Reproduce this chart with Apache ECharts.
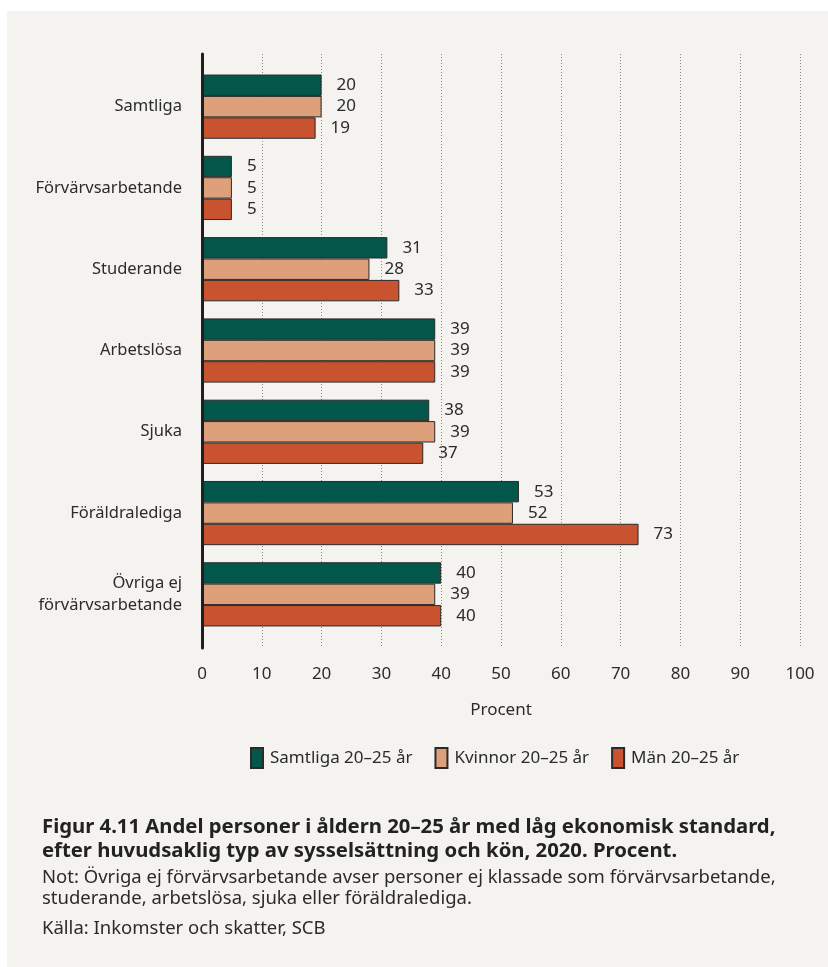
<!DOCTYPE html>
<html>
<head>
<meta charset="utf-8">
<script src="https://cdn.jsdelivr.net/npm/echarts@6/dist/echarts.min.js"></script>
<style>
  html, body { margin: 0; padding: 0; background: #ffffff; }
  #chart { position: absolute; left: 0; top: 0; width: 828px; height: 967px; }
</style>
</head>
<body>
<div id="chart"></div>
<script>
// Employment categories (top to bottom)
const categories = [
  'Samtliga',
  'Förvärvsarbetande',
  'Studerande',
  'Arbetslösa',
  'Sjuka',
  'Föräldralediga',
  'Övriga ej\nförvärvsarbetande'
];

// Share with low economic standard, per cent
const samtliga = [20, 5, 31, 39, 38, 53, 40];
const kvinnor  = [20, 5, 28, 39, 39, 52, 39];
const man      = [19, 5, 33, 39, 37, 73, 40];

const seriesNames = ['Samtliga 20–25 år', 'Kvinnor 20–25 år', 'Män 20–25 år'];
const xTicks = [0, 10, 20, 30, 40, 50, 60, 70, 80, 90, 100];

const FONT = '"Noto Sans", sans-serif';
const TEXT = '#2b2b2b';
const colors = ['#03574a', '#dea07a', '#c9532f'];

function barSeries(name, data, color) {
  return {
    name: name,
    type: 'bar',
    xAxisIndex: 1,
    yAxisIndex: 1,
    data: data,
    barGap: '0%',
    barCategoryGap: '21%',
    itemStyle: { color: color, borderColor: '#2a2a2a', borderWidth: 1 },
    label: {
      show: true,
      position: 'right',
      distance: 15,
      fontFamily: FONT,
      fontSize: 17,
      color: TEXT
    }
  };
}

const chart = echarts.init(document.getElementById('chart'), null, { renderer: 'canvas' });

chart.setOption({
  animation: false,
  backgroundColor: '#ffffff',
  textStyle: { fontFamily: FONT },
  graphic: [{
    type: 'rect',
    left: 7, top: 11,
    shape: { width: 821, height: 956 },
    style: { fill: '#f4f3ef' },
    z: -10, silent: true
  }],
  title: [
    {
      text: 'Figur 4.11 Andel personer i åldern 20–25 år med låg ekonomisk standard,\nefter huvudsaklig typ av sysselsättning och kön, 2020. Procent.',
      left: 42, top: 815,
      padding: 0,
      textStyle: { fontFamily: FONT, fontSize: 20.3, fontWeight: 'bold', color: '#222', lineHeight: 24 }
    },
    {
      text: 'Not: Övriga ej förvärvsarbetande avser personer ej klassade som förvärvsarbetande,\nstuderande, arbetslösa, sjuka eller föräldralediga.',
      left: 42, top: 867,
      padding: 0,
      textStyle: { fontFamily: FONT, fontSize: 18.5, fontWeight: 'normal', color: TEXT, lineHeight: 21 }
    },
    {
      text: 'Källa: Inkomster och skatter, SCB',
      left: 42, top: 918,
      padding: 0,
      textStyle: { fontFamily: FONT, fontSize: 18.5, fontWeight: 'normal', color: TEXT, lineHeight: 21 }
    }
  ],
  legend: {
    top: 742,
    left: 245,
    data: seriesNames,
    icon: 'rect',
    itemWidth: 12,
    itemHeight: 20,
    itemGap: 22,
    textStyle: { fontFamily: FONT, fontSize: 17, color: TEXT, padding: [0, 0, 0, 2] }
  },
  grid: [
    // frame grid: gridlines, ticks and the vertical axis line
    { left: 202, right: 28, top: 54, bottom: 319, containLabel: false },
    // bar grid
    { left: 202, right: 28, top: 66, bottom: 332, containLabel: false }
  ],
  xAxis: [
    {
      gridIndex: 0,
      type: 'value',
      min: xTicks[0], max: xTicks[xTicks.length - 1], interval: 10,
      axisLine: { show: false },
      axisTick: { show: false },
      splitLine: { show: true, lineStyle: { color: '#888', type: [1, 2], width: 1 } },
      axisLabel: { fontFamily: FONT, fontSize: 17, color: TEXT, margin: 18 },
      name: 'Procent',
      nameLocation: 'middle',
      nameGap: 54,
      nameTextStyle: { fontFamily: FONT, fontSize: 17, color: TEXT }
    },
    {
      gridIndex: 1,
      type: 'value',
      min: xTicks[0], max: xTicks[xTicks.length - 1],
      show: false
    }
  ],
  yAxis: [
    {
      gridIndex: 0,
      type: 'value',
      min: 0, max: 1,
      axisLine: { show: true, onZero: false, lineStyle: { color: '#1f1f1f', width: 3 } },
      axisTick: { show: false },
      axisLabel: { show: false },
      splitLine: { show: false },
      z: 5
    },
    {
      gridIndex: 1,
      type: 'category',
      inverse: true,
      data: categories,
      axisLine: { show: false },
      axisTick: { show: false },
      splitLine: { show: false },
      axisLabel: {
        fontFamily: FONT, fontSize: 16.5, color: TEXT, margin: 20,
        align: 'right', lineHeight: 22
      }
    }
  ],
  series: [
    barSeries(seriesNames[0], samtliga, colors[0]),
    barSeries(seriesNames[1], kvinnor, colors[1]),
    barSeries(seriesNames[2], man, colors[2])
  ]
});
</script>
</body>
</html>
